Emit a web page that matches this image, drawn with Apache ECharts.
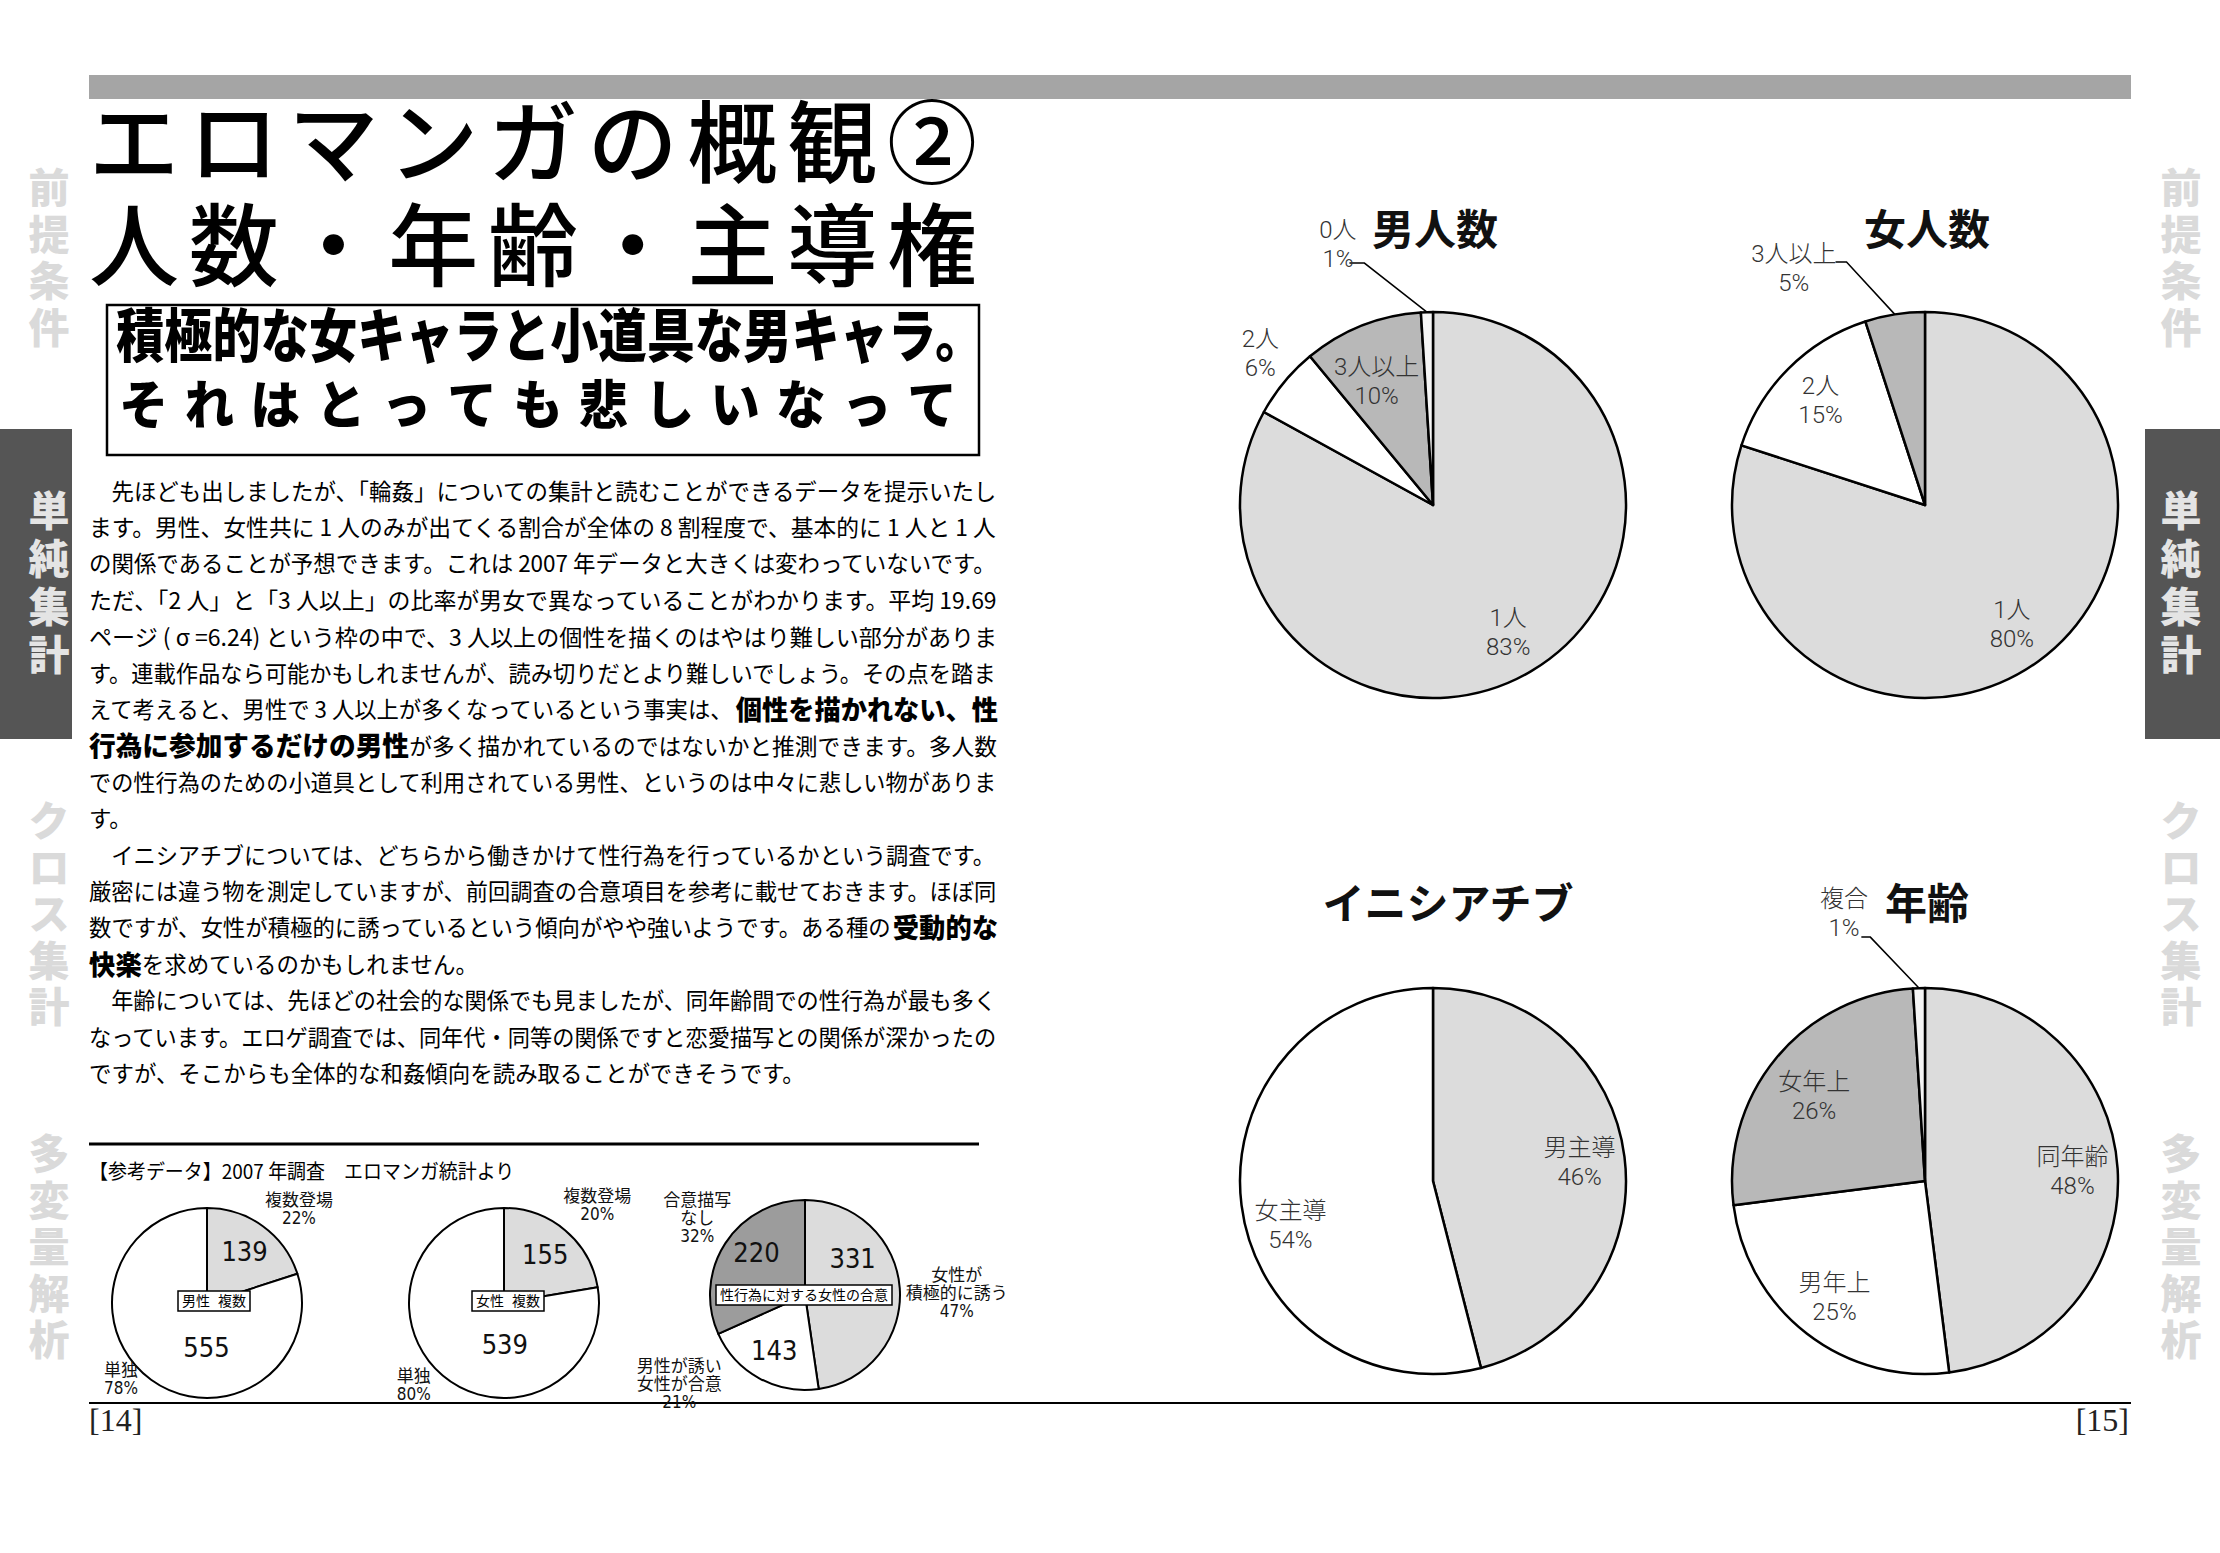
<!DOCTYPE html>
<html><head><meta charset="utf-8">
<script src="https://cdn.jsdelivr.net/npm/echarts@6/dist/echarts.min.js"></script>
<style>html,body{margin:0;padding:0;background:#fff}#c{width:2220px;height:1553px}</style>
</head><body><div id="c"></div>
<script>
// ---------------- DATA ----------------
const menCats = ['1人', '2人', '3人以上', '0人'];
const menVals = [83, 6, 10, 1];
const womenCats = ['1人', '2人', '3人以上'];
const womenVals = [80, 15, 5];
const initCats = ['男主導', '女主導'];
const initVals = [46, 54];
const ageCats = ['同年齢', '男年上', '女年上', '複合'];
const ageVals = [48, 25, 26, 1];
const maleMultiCats = ['複数登場', '単独'];
const maleMultiVals = [139, 555];
const maleMultiPct = ['22%', '78%'];
const femaleMultiCats = ['複数登場', '単独'];
const femaleMultiVals = [155, 539];
const femaleMultiPct = ['20%', '80%'];
const consentCats = ['女性が\n積極的に誘う', '男性が誘い\n女性が合意', '合意描写\nなし'];
const consentVals = [331, 143, 220];
const consentPct = ['47%', '21%', '32%'];
const bigTitles = ['男人数', '女人数', 'イニシアチブ', '年齢'];
const smallTitles = ['男性  複数', '女性  複数', '性行為に対する女性の合意'];
const pageTitle = ['エロマンガの概観②', '人数・年齢・主導権'];
const subTitle = ['積極的な女キャラと小道具な男キャラ。', 'それはとっても悲しいなって'];
const refCaption = '【参考データ】2007 年調査　エロマンガ統計より';
const tabLabels = ['前提条件', '単純集計', 'クロス集計', '多変量解析'];
const pageNums = ['[14]', '[15]'];
const bodyLines = [
  ['　先ほども出しましたが、「輪姦」についての集計と読むことができるデータを提示いたし'],
  ['ます。男性、女性共に 1 人のみが出てくる割合が全体の 8 割程度で、基本的に 1 人と 1 人'],
  ['の関係であることが予想できます。これは 2007 年データと大きくは変わっていないです。'],
  ['ただ、「2 人」と「3 人以上」の比率が男女で異なっていることがわかります。平均 19.69'],
  ['ページ ( σ =6.24) という枠の中で、3 人以上の個性を描くのはやはり難しい部分がありま'],
  ['す。連載作品なら可能かもしれませんが、読み切りだとより難しいでしょう。その点を踏ま'],
  ['えて考えると、男性で 3 人以上が多くなっているという事実は、', '*個性を描かれない、性'],
  ['*行為に参加するだけの男性', 'が多く描かれているのではないかと推測できます。多人数'],
  ['での性行為のための小道具として利用されている男性、というのは中々に悲しい物がありま'],
  ['す。'],
  ['　イニシアチブについては、どちらから働きかけて性行為を行っているかという調査です。'],
  ['厳密には違う物を測定していますが、前回調査の合意項目を参考に載せておきます。ほぼ同'],
  ['数ですが、女性が積極的に誘っているという傾向がやや強いようです。ある種の', '*受動的な'],
  ['*快楽', 'を求めているのかもしれません。'],
  ['　年齢については、先ほどの社会的な関係でも見ましたが、同年齢間での性行為が最も多く'],
  ['なっています。エロゲ調査では、同年代・同等の関係ですと恋愛描写との関係が深かったの'],
  ['ですが、そこからも全体的な和姦傾向を読み取ることができそうです。']
];
const raggedLines = [9, 13, 16];

// ---------------- STYLE / LAYOUT ----------------
const FAM = '"Noto Sans CJK JP", "Noto Sans CJK SC", sans-serif';
const TIGHT = '"Liberation Sans", "Noto Sans CJK JP", sans-serif';
const LABELFAM = '"Roboto", "Noto Sans CJK JP", sans-serif';
const NARROW = '"Liberation Sans Narrow", "DejaVu Sans Condensed", "Noto Sans CJK JP", sans-serif';
const SERIF = '"Liberation Serif", "DejaVu Serif", serif';
const mc = document.createElement('canvas').getContext('2d');
function measure(s, size, weight, fam) { mc.font = weight + ' ' + size + 'px ' + (fam || FAM); return mc.measureText(s).width; }
const G = [];
function txt(s, x, y, o) {
  return { type: 'text', x: x, y: y, scaleX: o.scaleX || 1, silent: true, z: 10,
    style: { text: s, fontSize: o.size, fontWeight: o.weight || 'normal', fontFamily: o.fam || FAM,
      lineHeight: o.lh || o.size,
      fill: o.fill || '#000', align: o.align || 'left', textAlign: o.align || 'left',
      verticalAlign: 'middle', textVerticalAlign: 'middle' } };
}
function spread(s, x0, x1, y, size, weight, sx, fill, fam) {
  sx = sx || 1;
  const chars = Array.from(s);
  const ws = chars.map(c => measure(c, size, weight, fam) * sx);
  const total = ws.reduce((a, b) => a + b, 0);
  const gap = chars.length > 1 ? (x1 - x0 - total) / (chars.length - 1) : 0;
  let x = x0;
  chars.forEach((c, i) => { G.push(txt(c, x, y, { size, weight, scaleX: sx, fill, fam })); x += ws[i] + gap; });
}
function fitText(s, x0, width, y, size, weight, fam) {
  const w = measure(s, size, weight, fam);
  G.push(txt(s, x0, y, { size, weight, fam, scaleX: width / w }));
}
function lineParts(segs) {
  return segs.map(s => { const b = s[0] === '*'; const t = b ? s.slice(1) : s;
    const size = b ? 27 : 23; const weight = b ? 900 : 400;
    return { t, size, weight, w: measure(t, size, weight) }; });
}
function vstack(s, cx, y0, step, size, fill) {
  Array.from(s).forEach((ch, i) => G.push(txt(ch, cx, y0 + i * step, { size, weight: 900, fill, align: 'center', fam: TIGHT })));
}

// frame
G.push({ type: 'rect', shape: { x: 89, y: 75, width: 2042, height: 24 }, style: { fill: '#a5a5a5' } });
spread(pageTitle[0], 89, 977, 145, 90, 500, 1, '#000', TIGHT);
spread(pageTitle[1], 89, 977, 248, 90, 500, 1, '#000', TIGHT);
G.push({ type: 'rect', shape: { x: 107, y: 305, width: 872, height: 150 }, style: { fill: 'none', stroke: '#000', lineWidth: 2.5 } });
fitText(subTitle[0], 116, 868, 337, 58, 900, TIGHT);
spread(subTitle[1], 119, 957, 406, 52, 900, 0.95, '#000', TIGHT);

// body text
(function () {
  const x0 = 89, width = 909, y0 = 490, lh = 36.4;
  const scales = [];
  bodyLines.forEach((segs, i) => {
    if (raggedLines.indexOf(i) >= 0) return;
    const parts = lineParts(segs); const tot = parts.reduce((a, p) => a + p.w, 0);
    scales.push(width / tot);
  });
  const fallback = scales.reduce((a, b) => a + b, 0) / scales.length;
  bodyLines.forEach((segs, i) => {
    const parts = lineParts(segs); const tot = parts.reduce((a, p) => a + p.w, 0);
    const sc = raggedLines.indexOf(i) >= 0 ? fallback : width / tot;
    let x = x0;
    parts.forEach(p => { G.push(txt(p.t, x, y0 + i * lh, { size: p.size, weight: p.weight, scaleX: sc })); x += p.w * sc; });
  });
})();

G.push({ type: 'line', shape: { x1: 89, y1: 1144, x2: 979, y2: 1144 }, style: { stroke: '#000', lineWidth: 3 } });
fitText(refCaption, 89, 426, 1170, 20, 400);
G.push({ type: 'line', shape: { x1: 89, y1: 1403, x2: 2131, y2: 1403 }, style: { stroke: '#000', lineWidth: 2 } });
G.push(txt(pageNums[0], 89, 1420, { size: 32, fam: SERIF, fill: '#222' }));
G.push(txt(pageNums[1], 2129, 1420, { size: 32, fam: SERIF, fill: '#222', align: 'right' }));

// side tabs
G.push({ type: 'rect', shape: { x: 0, y: 429, width: 72, height: 310 }, style: { fill: '#555' } });
G.push({ type: 'rect', shape: { x: 2145, y: 429, width: 75, height: 310 }, style: { fill: '#555' } });
const tabY = [189, 512, 822, 1155];
[49, 2181].forEach(cx => {
  tabLabels.forEach((t, k) => vstack(t, cx, tabY[k], k === 1 ? 48 : 46.5, 41, k === 1 ? '#e4e4e4' : '#dadada'));
});

// ---------------- PIES ----------------
const R = 193, r = 95;
function makeLayout(tw) {
  return function (p) {
    const t = tw[p.dataIndex];
    if (!t) return {};
    const pts = p.labelLinePoints;
    let ax, ay;
    if (t.edge && pts) { ax = pts[0][0]; ay = pts[0][1]; }
    else { const b = p.labelRect; ax = b.x + b.width / 2; ay = b.y + b.height / 2; }
    const out = { x: ax + t.ox, y: ay + t.oy, align: 'center', verticalAlign: 'middle' };
    if (t.elbow != null && pts) {
      const p1 = pts[1], p2 = pts[2];
      const s = p2[0] < p1[0] ? 1 : -1;
      out.labelLinePoints = [pts[0], [p2[0] + s * t.elbow, p2[1]], p2];
    }
    return out;
  };
}
function outLbl(len, len2, visible) {
  return { label: { position: 'outside' },
    labelLine: { show: true, length: len, length2: len2, lineStyle: { color: '#000', width: 1.5, opacity: visible ? 1 : 0 } } };
}
function bigPie(cats, vals, colors, center, overrides, tweaks) {
  const fill = {
    type: 'pie', center: center, radius: [0, R], startAngle: 90, clockwise: true, silent: true,
    label: { show: false }, labelLine: { show: false }, emphasis: { disabled: true },
    itemStyle: { borderColor: '#000', borderWidth: 2.5 },
    data: cats.map((c, i) => ({ name: c, value: vals[i], itemStyle: { color: colors[i] } }))
  };
  const lab = {
    type: 'pie', center: center, radius: [R * 0.5, R], startAngle: 90, clockwise: true, silent: true,
    avoidLabelOverlap: false, emphasis: { disabled: true },
    itemStyle: { color: 'rgba(0,0,0,0)', borderWidth: 0 },
    label: { show: true, position: 'inside', formatter: p => p.name + '\n' + p.value + '%',
      fontSize: 24, lineHeight: 29, fontFamily: LABELFAM, fontWeight: 300, color: '#333' },
    labelLine: { show: false },
    labelLayout: makeLayout(tweaks),
    data: cats.map((c, i) => Object.assign({ name: c, value: vals[i] }, overrides[i] || {}))
  };
  return [fill, lab];
}
function smallPie(cats, vals, pct, colors, center, outTweaks, numTweaks) {
  const fill = {
    type: 'pie', center: center, radius: [0, r], startAngle: 90, clockwise: true, silent: true,
    avoidLabelOverlap: false, emphasis: { disabled: true },
    itemStyle: { borderColor: '#000', borderWidth: 2 },
    label: { show: true, position: 'outside', formatter: p => cats[p.dataIndex] + '\n' + pct[p.dataIndex],
      fontSize: 17, lineHeight: 18, fontFamily: NARROW, color: '#111' },
    labelLine: { show: true, length: 1, length2: 1, lineStyle: { opacity: 0 } },
    labelLayout: makeLayout(outTweaks),
    data: cats.map((c, i) => ({ name: c, value: vals[i], itemStyle: { color: colors[i] } }))
  };
  const num = {
    type: 'pie', center: center, radius: [r * 0.28, r], startAngle: 90, clockwise: true, silent: true,
    avoidLabelOverlap: false, emphasis: { disabled: true },
    itemStyle: { color: 'rgba(0,0,0,0)', borderWidth: 0 },
    label: { show: true, position: 'inside', formatter: '{c}', fontSize: 27, fontFamily: NARROW, color: '#111' },
    labelLine: { show: false },
    labelLayout: makeLayout(numTweaks),
    data: cats.map((c, i) => ({ name: c, value: vals[i] }))
  };
  return [fill, num];
}

const LIGHT = '#dcdcdc', DARK = '#b8b8b8', WHITE = '#ffffff', PALE = '#f5f5f5';
const series = [].concat(
  bigPie(menCats, menVals, [LIGHT, WHITE, DARK, PALE], [1433, 505],
    { 1: outLbl(1, 1, false), 3: outLbl(49, 76, true) },
    { 1: { edge: true, ox: -24, oy: -28 }, 2: { ox: -2, oy: 14 }, 3: { edge: true, ox: -89, oy: -68, elbow: 15 } }),
  bigPie(womenCats, womenVals, [LIGHT, WHITE, DARK], [1925, 505],
    { 2: outLbl(53, 51, true) },
    { 2: { edge: true, ox: -101, oy: -46, elbow: 11 } }),
  bigPie(initCats, initVals, [LIGHT, WHITE], [1433, 1181], {},
    { 1: { ox: 4, oy: 26 } }),
  bigPie(ageCats, ageVals, [LIGHT, WHITE, DARK, PALE], [1925, 1181],
    { 3: outLbl(51, 56, true) },
    { 2: { ox: 3, oy: 10 }, 3: { edge: true, ox: -75, oy: -75, elbow: 9 } }),
  smallPie(maleMultiCats, maleMultiVals, maleMultiPct, [LIGHT, WHITE], [207, 1303],
    { 0: { edge: true, ox: 36, oy: -17 }, 1: { edge: true, ox: -30, oy: -1 } },
    { 1: { ox: 37, oy: -7 } }),
  smallPie(femaleMultiCats, femaleMultiVals, femaleMultiPct, [LIGHT, WHITE], [504, 1303],
    { 0: { edge: true, ox: 32, oy: -25 }, 1: { edge: true, ox: -29, oy: 9 } },
    { 1: { ox: 42, oy: -7 } }),
  smallPie(consentCats, consentVals, consentPct, [LIGHT, WHITE, '#9c9c9c'], [805, 1295],
    { 0: { edge: true, ox: 57, oy: 5 }, 1: { edge: true, ox: -80, oy: 6 }, 2: { edge: true, ox: -28, oy: -25 } },
    { 0: { ox: -16, oy: -32 }, 2: { ox: 5, oy: -8 } })
);

const bigTitlePos = [[1435, 226], [1927, 226], [1448, 900], [1927, 900]];
const smallTitlePos = [[210, 1299], [504, 1299], [800, 1293]];
const titles = bigTitles.map((t, i) => ({
  text: t, left: bigTitlePos[i][0], top: bigTitlePos[i][1], textAlign: 'center', textVerticalAlign: 'middle', padding: 0,
  textStyle: { fontSize: 42, fontWeight: 'bold', fontFamily: FAM, color: '#111', lineHeight: 42 }
})).concat(smallTitles.map((t, i) => ({
  text: t, left: smallTitlePos[i][0], top: smallTitlePos[i][1], textAlign: 'center', textVerticalAlign: 'middle',
  padding: [2, 4], borderColor: '#000', borderWidth: 1.5, backgroundColor: '#fff',
  textStyle: { fontSize: 14, fontWeight: 'normal', fontFamily: NARROW, color: '#000', lineHeight: 16 }
})));

const chart = echarts.init(document.getElementById('c'), null, { renderer: 'svg', width: 2220, height: 1553 });
chart.setOption({
  animation: false,
  backgroundColor: '#ffffff',
  title: titles,
  graphic: G,
  series: series
});
</script></body></html>
